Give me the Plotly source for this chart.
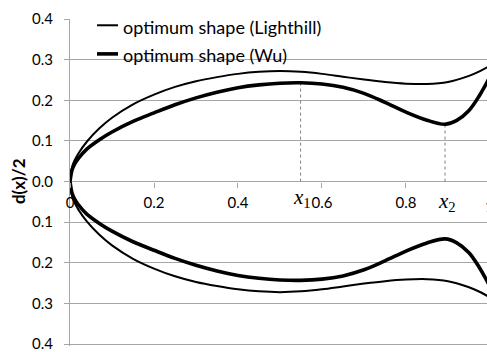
import plotly.graph_objects as go

# Half-thickness profiles d(x)/2 along the body (upper half; lower half is mirrored)
x_lighthill = [0.0, 0.005, 0.01, 0.02, 0.04, 0.07, 0.1, 0.15, 0.2, 0.25, 0.3, 0.35,
               0.4, 0.45, 0.5, 0.55, 0.6, 0.65, 0.7, 0.75, 0.8, 0.85, 0.9, 0.95,
               0.975, 1.0]
d_lighthill = [0.0, 0.036, 0.05, 0.069, 0.098, 0.131, 0.157, 0.190, 0.214, 0.233,
               0.247, 0.257, 0.265, 0.270, 0.272, 0.270, 0.265, 0.258, 0.251, 0.245,
               0.241, 0.240, 0.245, 0.260, 0.271, 0.285]

x_wu = [0.0, 0.005, 0.01, 0.02, 0.04, 0.07, 0.1, 0.15, 0.2, 0.25, 0.3, 0.35, 0.4,
        0.45, 0.5, 0.549, 0.6, 0.65, 0.7, 0.75, 0.8, 0.85, 0.893, 0.92, 0.95, 0.975,
        1.0]
d_wu = [0.0, 0.029, 0.041, 0.057, 0.080, 0.103, 0.122, 0.148, 0.169, 0.189, 0.206,
        0.220, 0.231, 0.238, 0.242, 0.243, 0.240, 0.232, 0.217, 0.195, 0.171, 0.151,
        0.141, 0.150, 0.175, 0.212, 0.258]

# Extrema of the Wu profile
x_marks = [0.549, 0.893]
d_marks = [0.243, 0.141]
mark_labels = ["<i>x</i><sub>1</sub>", "<i>x</i><sub>2</sub>"]

y_ticks = [-0.4, -0.3, -0.2, -0.1, 0.0, 0.1, 0.2, 0.3, 0.4]
y_ticktext = ["0.4", "0.3", "0.2", "0.1", "0.0", "0.1", "0.2", "0.3", "0.4"]
x_ticks = [0.0, 0.2, 0.4, 0.6, 0.8]
x_ticktext = ["0", "0.2", "0.4", "0.6", "0.8"]

series_names = ["optimum shape (Lighthill)", "optimum shape (Wu)"]

GRID = "#a6a6a6"
FONT = "Lato"
XMAX = 0.9929
YMIN = -0.4045

fig = go.Figure()

# dashed markers at the Wu extrema
for xm, dm in zip(x_marks, d_marks):
    fig.add_trace(go.Scatter(x=[xm, xm], y=[0, dm], mode="lines",
                             line=dict(color="#7f7f7f", width=1, dash="3px,3px"),
                             showlegend=False, hoverinfo="skip"))

for xs, ds, w in [(x_lighthill, d_lighthill, 2.0), (x_wu, d_wu, 3.6)]:
    for sign in (1, -1):
        fig.add_trace(go.Scatter(x=xs, y=[sign * v for v in ds], mode="lines",
                                 line=dict(color="black", width=w, shape="spline",
                                           smoothing=1.0),
                                 showlegend=False))

# paper-y of the y = 0 crossing
y0_paper = -YMIN / (0.4 - YMIN)

annotations = []
# legend text
for name, py in zip(series_names, [0.9756, 0.889]):
    annotations.append(dict(xref="paper", yref="paper", x=0.1223, y=py, text=name,
                            showarrow=False, xanchor="left", yanchor="middle",
                            font=dict(family=FONT, size=18, color="black")))
# extrema labels
for xm, lab, yl in zip(x_marks, mark_labels, [-0.041, -0.049]):
    annotations.append(dict(xref="x", yref="y", x=xm + 0.004, y=yl, text=lab,
                            showarrow=False, xanchor="center", yanchor="middle",
                            font=dict(family="Liberation Serif", size=21,
                                      color="black")))
# last x tick label sits at the right edge
annotations.append(dict(xref="paper", yref="paper", x=1.0 + (1 - XMAX) / XMAX,
                        y=y0_paper, yshift=-24, text="1", showarrow=False,
                        xanchor="center", yanchor="middle",
                        font=dict(family=FONT, size=15, color="black")))
# y-axis title
annotations.append(dict(xref="paper", yref="paper", x=-0.1235, y=y0_paper,
                        text="<b>d(x)/2</b>", textangle=-90, showarrow=False,
                        xanchor="center", yanchor="middle",
                        font=dict(family=FONT, size=17, color="black")))

shapes = []
for py, w in zip([0.9808, 0.8933], [2.0, 3.6]):
    shapes.append(dict(type="line", xref="paper", yref="paper", x0=0.0647, x1=0.1151,
                       y0=py, y1=py, line=dict(color="black", width=w)))

fig.update_layout(
    width=487, height=352,
    margin=dict(l=70, r=0, t=19, b=3),
    paper_bgcolor="white", plot_bgcolor="white",
    font=dict(family=FONT, size=15, color="black"),
    annotations=annotations, shapes=shapes,
    # the horizontal axis crosses at y = 0; its line is the y zero line
    xaxis=dict(range=[0, XMAX], anchor="free", position=y0_paper,
               showline=False,
               ticks="outside", ticklen=5, tickcolor=GRID,
               tickvals=x_ticks, ticktext=x_ticktext, ticklabelstandoff=2,
               showgrid=False, zeroline=False),
    yaxis=dict(range=[YMIN, 0.4], showline=True, linecolor=GRID, linewidth=1,
               ticks="outside", ticklen=5, tickcolor=GRID,
               tickvals=y_ticks, ticktext=y_ticktext, ticklabelstandoff=8,
               ticklabeloverflow="allow",
               showgrid=True, gridcolor=GRID, gridwidth=1,
               zeroline=True, zerolinecolor=GRID, zerolinewidth=1),
)

fig.write_html("out.html")
